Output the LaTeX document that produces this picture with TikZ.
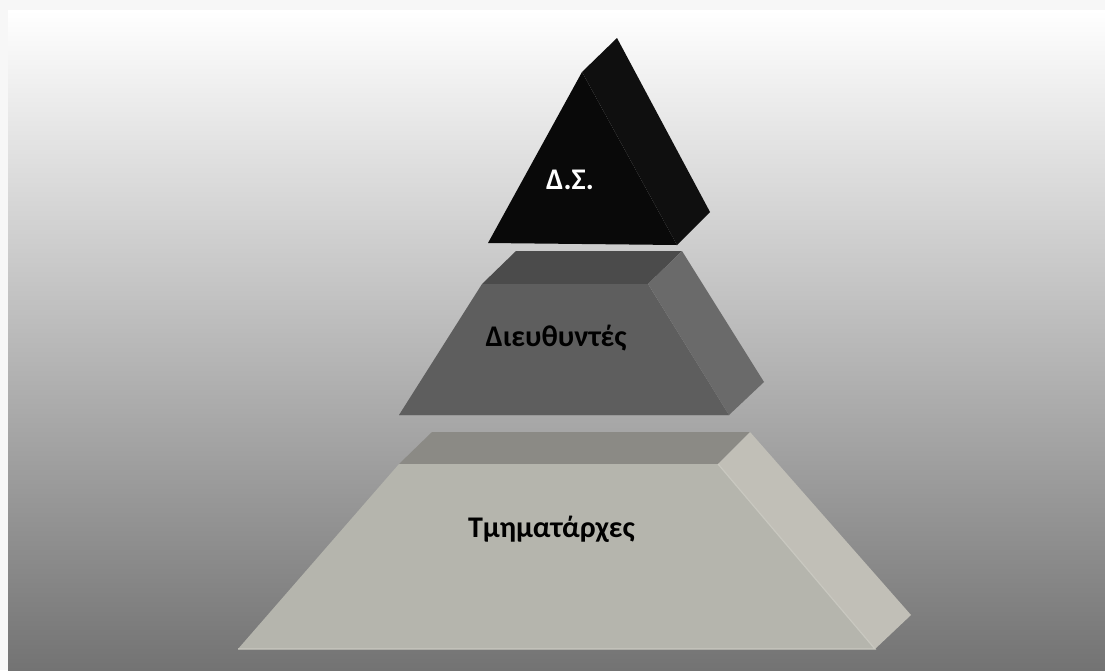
\documentclass[tikz,border=0pt]{standalone}
\usepackage{fontspec}
\setmainfont{Carlito}
\definecolor{pagebg}{HTML}{F7F7F7}
\definecolor{bgtop}{HTML}{FFFFFF}
\definecolor{bgbot}{HTML}{737373}
\definecolor{dsfront}{HTML}{090909}
\definecolor{dsright}{HTML}{0F0F0F}
\definecolor{mtop}{HTML}{4B4B4B}
\definecolor{mfront}{HTML}{5E5E5E}
\definecolor{mright}{HTML}{6A6A6A}
\definecolor{btop}{HTML}{8B8A85}
\definecolor{bfront}{HTML}{B5B5AD}
\definecolor{bright}{HTML}{C1BFB7}
\definecolor{bedge}{HTML}{C9C8C0}
\tikzset{
  lbl/.style={font=\fontsize{30}{34}\selectfont\bfseries, inner sep=0pt, anchor=base},
}
\begin{document}
\begin{tikzpicture}[x=1pt,y=-1pt]
\useasboundingbox (0,0) rectangle (1105,670);
\fill[pagebg] (0,0) rectangle (1105,670);
\shade[top color=bgtop, bottom color=bgbot] (8,10) rectangle (1105,670);
% bottom block
\fill[btop] (432,432) -- (750,432) -- (718,464) -- (399,464) -- cycle;
\fill[bfront] (399,464) -- (718,464) -- (875,649) -- (238,649) -- cycle;
\fill[bright] (718,464) -- (750,432) -- (911,615) -- (875,649) -- cycle;
\draw[bedge, line width=1.2pt] (718,464) -- (875,649) -- (238,649);
% middle block
\fill[mtop] (516,251) -- (682,251) -- (648,284) -- (482,284) -- cycle;
\fill[mfront] (482,284) -- (648,284) -- (729,415) -- (399,415) -- cycle;
\fill[mright] (648,284) -- (682,251) -- (764,382) -- (729,415) -- cycle;
\draw[gray!80, line width=0.8pt] (729,415) -- (399,415);
% top pyramid
\fill[dsfront] (582,72) -- (677,245) -- (488,243) -- cycle;
\fill[dsright] (582,72) -- (617,38) -- (710,212) -- (677,245) -- cycle;
% labels
\node[lbl, text=white] (ds) at (570,189) {Δ.Σ.};
\node[lbl, text=black] (dir) at (556,346) {Διευθυντές};
\node[lbl, text=black] (tm) at (551.5,537) {Τμηματάρχες};
\end{tikzpicture}
\end{document}
